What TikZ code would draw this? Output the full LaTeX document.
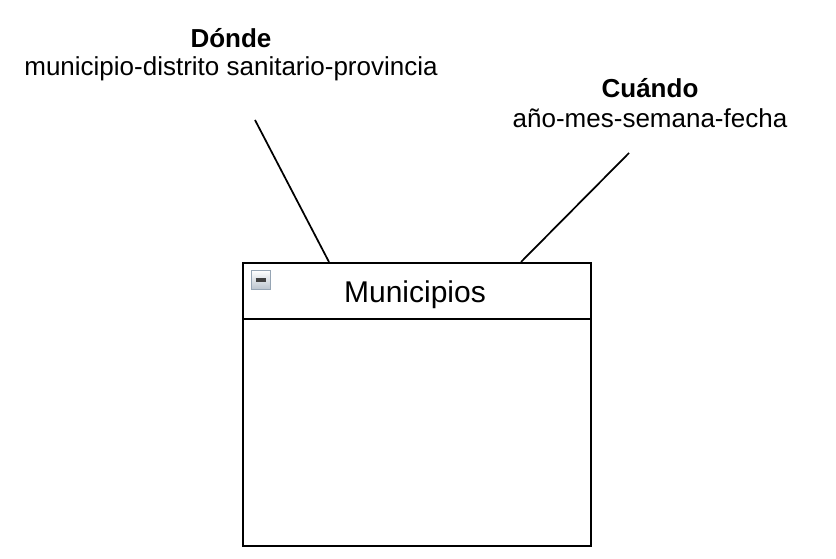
\documentclass[tikz,border=0pt]{standalone}
\usepackage{fontspec}
\setmainfont{Liberation Sans}
\usetikzlibrary{positioning,calc}

\definecolor{bordeico}{RGB}{150,165,180}
\definecolor{fondoico}{RGB}{185,195,205}

\tikzset{
  linea/.style={line width=1.3pt},
  etiq/.style={inner sep=0pt,font=\fontsize{19.5}{23}\selectfont},
  etiqb/.style={etiq,font=\fontsize{19.5}{23}\selectfont\bfseries},
}

\begin{document}
\begin{tikzpicture}[x=0.75pt,y=-0.75pt]
\useasboundingbox (0,0) rectangle (836,559);
% tabla
\node [draw,linea,anchor=north west,minimum width=261pt,minimum height=212.25pt,inner sep=0pt] (tabla) at (242,262) {};
\draw [linea] ($(tabla.north west)+(0,57)$) -- ($(tabla.north east)+(0,57)$);
\node [inner sep=0pt,font=\fontsize{22.5}{27}\selectfont] (titulo) at (415,295) {Municipios};
\node [draw=bordeico,line width=1pt,top color=white,bottom color=fondoico,minimum size=14.5pt,inner sep=0pt] (icono) at (261,280) {};
\draw [line width=2.6pt,black!75] ($(icono.west)+(5,0)$) -- ($(icono.east)+(-5,0)$);
% dimensiones
\node [etiqb] (donde) at (231,38) {Dónde};
\node [etiq] (dondeniv) at (231,69) {municipio-distrito sanitario-provincia};
\node [etiqb] (cuando) at (650,88) {Cuándo};
\node [etiq] (cuandoniv) at (650,118) {año-mes-semana-fecha};
\coordinate (pdonde) at (255,120);
\coordinate (pcuando) at (629,153);
\draw [linea] (pdonde) -- ($(tabla.north west)+(87,0)$);
\draw [linea] (pcuando) -- ($(tabla.north west)+(279,0)$);
\end{tikzpicture}
\end{document}
